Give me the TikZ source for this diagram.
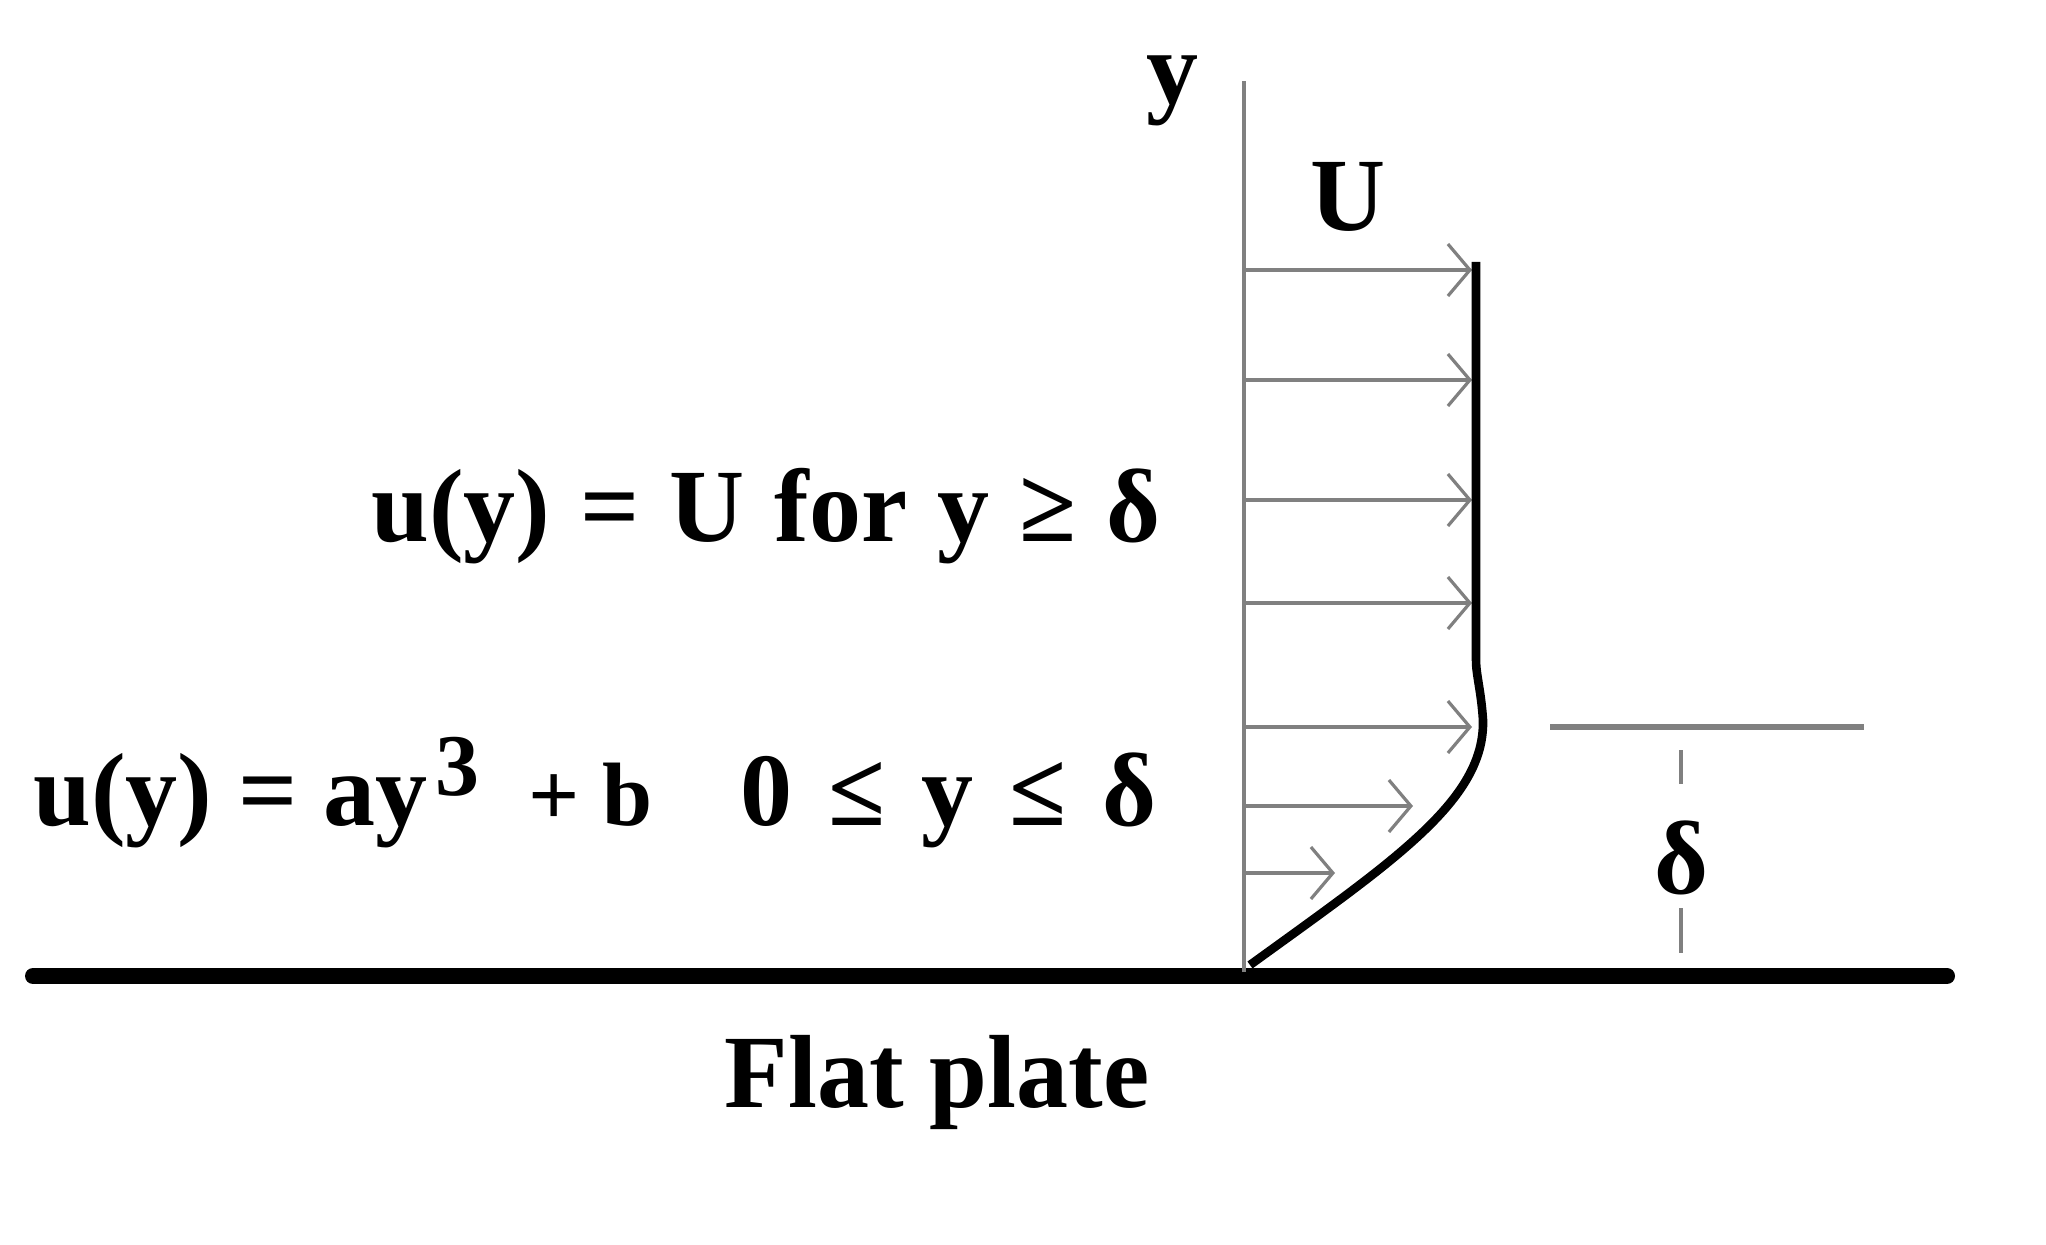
\documentclass[tikz,border=0pt]{standalone}
\usepackage{fontspec}
\setmainfont{Liberation Serif}
\usetikzlibrary{arrows.meta}
\definecolor{axisgray}{HTML}{808080}
\newcommand{\wsp}{\hspace{15pt}}
\tikzset{
  axisline/.style={draw=axisgray, line width=2pt},
  velarrow/.style={draw=axisgray, line width=1.8pt, -{Straight Barb[length=11pt, width=26pt, line width=1.6pt]}},
  profile/.style={draw=black, line width=4.3pt, line join=round, line cap=butt},
  plate/.style={draw=black, line width=8pt, line cap=round},
  deltaline/.style={draw=axisgray, line width=2.5pt},
  lbl/.style={font=\fontsize{52}{60}\selectfont\bfseries, inner sep=0pt},
}
\begin{document}
\begin{tikzpicture}[x=0.5pt, y=-0.5pt]
\useasboundingbox (0,0) rectangle (2046,1245);
% plate
\coordinate (pl0) at (33,976);
\coordinate (pl1) at (1947,976);
\draw[plate] (pl0) -- (pl1);
% y axis
\coordinate (ax0) at (1244,972);
\coordinate (ax1) at (1244,81);
\draw[axisline] (ax0) -- (ax1);
% velocity arrows
\foreach \n/\yy/\xe in {1/270/1472, 2/380/1472, 3/500/1472, 4/603/1472, 5/727/1472, 6/806/1413, 7/873/1335}{
  \coordinate (a\n) at (1244,\yy);
  \coordinate (p\n) at (\xe,\yy);
  \draw[velarrow] (a\n) -- (p\n);
}
% profile
\coordinate (pr0) at (1250,965);
\coordinate (pr1) at (1483,720);
\coordinate (pr2) at (1476,660);
\coordinate (pr3) at (1476,262);
\draw[profile] (pr0) .. controls (1395,860) and (1485,800) .. (pr1) .. controls (1481,690) and (1476,675) .. (pr2) -- (pr3);
% delta marker
\coordinate (d0) at (1550,727);
\coordinate (d1) at (1864,727);
\draw[deltaline] (d0) -- (d1);
\coordinate (dd0) at (1681,750);
\coordinate (dd1) at (1681,784);
\coordinate (dd2) at (1681,908);
\coordinate (dd3) at (1681,953);
\draw[deltaline, line width=2.2pt] (dd0) -- (dd1);
\draw[deltaline, line width=2.2pt] (dd2) -- (dd3);
% labels
\node[lbl, anchor=base] (ylab) at (1172,104) {y};
\node[lbl, anchor=base] (Ulab) at (1348,231) {U};
\node[lbl, anchor=base] (dlab) at (1681,893) {δ};
\node[lbl, anchor=base] (flat) at (937,1107) {Flat plate};
\node[lbl, anchor=base east] (eq1) at (1161,542) {u(y)\wsp=\wsp U\wsp for\wsp y\wsp≥\wsp δ};
\node[lbl, anchor=base west] (eq2a) at (33,825) {u(y) = ay};
\node[lbl, anchor=base west, font=\fontsize{44}{52}\selectfont\bfseries] (eq2b) at (435,795) {3};
\node[lbl, anchor=base west, font=\fontsize{45}{52}\selectfont\bfseries] (eq2c) at (528,825) {+ b};
\node[lbl, anchor=base east] (eq2d) at (1157,825) {0\hspace{18pt}≤\hspace{18pt}y\hspace{18pt}≤\hspace{18pt}δ};
\end{tikzpicture}
\end{document}
